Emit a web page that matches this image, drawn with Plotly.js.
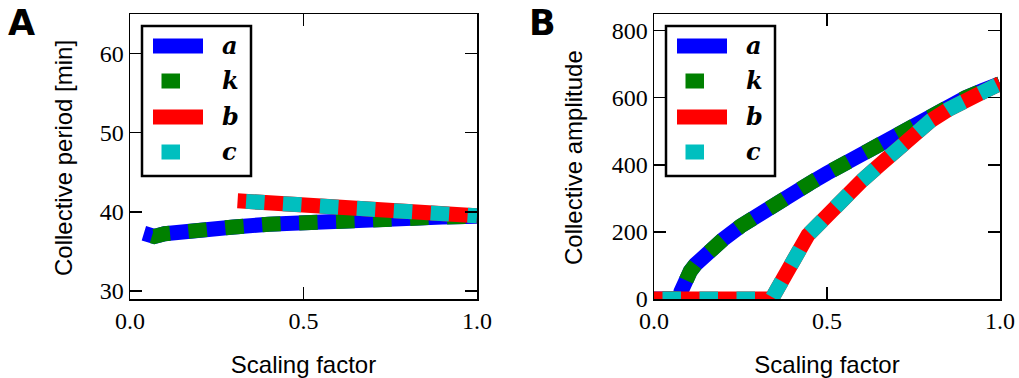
<!DOCTYPE html>
<html>
<head>
<meta charset="utf-8">
<script src="https://cdn.plot.ly/plotly-3.0.1.min.js"></script>
<style>html,body{margin:0;padding:0;background:#fff;}#chart{width:1019px;height:378px;}</style>
</head>
<body>
<div id="chart"></div>
<script>
// Panel A: collective period [min]
const periodA_x = [0.04, 0.07, 0.1, 0.15, 0.2, 0.25, 0.3, 0.4, 0.5, 0.6, 0.7, 0.8, 0.9, 1.0];
const periodA_y = [37.3, 36.9, 37.25, 37.55, 37.75, 37.95, 38.1, 38.45, 38.7, 38.9, 39.05, 39.2, 39.35, 39.45];
const periodB_x = [0.31, 0.4, 0.5, 0.6, 0.7, 0.8, 0.9, 1.0];
const periodB_y = [41.4, 41.2, 40.95, 40.75, 40.5, 40.2, 39.85, 39.5];
// Panel B: collective amplitude
const ampA_x = [0, 0.074, 0.078, 0.085, 0.095, 0.105, 0.12, 0.135, 0.15, 0.17, 0.2, 0.25, 0.3, 0.35, 0.4, 0.45, 0.5, 0.55, 0.6, 0.65, 0.7, 0.75, 0.8, 0.85, 0.9, 0.95, 1.0];
const ampA_y = [0, 0, 22, 45, 66, 83, 103, 120, 135, 153, 178, 217, 252, 284, 315, 345, 375, 404, 433, 462, 492, 521, 548, 575, 600, 622, 642];
const ampB_x = [0, 0.34, 0.445, 0.5, 0.55, 0.6, 0.65, 0.7, 0.75, 0.8, 0.85, 0.9, 0.95, 1.0];
const ampB_y = [0, 0, 191, 252, 304, 352, 398, 442, 493, 532, 565, 595, 617, 642];

const seriesNames = ['a', 'k', 'b', 'c'];
const seriesColors = ['#0000ff', '#008000', '#ff0000', '#00bfbf'];
const xTickVals = [0, 0.5, 1.0];
const xTickText = ['0.0', '0.5', '1.0'];
const yTickValsA = [30, 40, 50, 60];
const yTickValsB = [0, 200, 400, 600, 800];

const LW = 15;
const seriesDash = ['solid', '0px,8.5px,18.5px,10px', 'solid', '0px,8.5px,18.5px,10px'];
const legendDash = ['solid', '0px,8.5px,18.5px,40px', 'solid', '0px,8.5px,18.5px,40px'];

const W = 1019, PT = 14, PB = 299;
const px2x = p => p / W;
const px2y = p => (PB - p) / (PB - PT);

function tr(x, y, i, xa, ya) {
  return {
    x: x, y: y, type: 'scatter', mode: 'lines',
    name: seriesNames[i], showlegend: false,
    xaxis: xa, yaxis: ya,
    line: {color: seriesColors[i], width: LW, dash: seriesDash[i]},
    hoverinfo: 'skip'
  };
}

const data = [
  tr(periodA_x, periodA_y, 0, 'x', 'y'),
  tr(periodA_x, periodA_y, 1, 'x', 'y'),
  tr(periodB_x, periodB_y, 2, 'x', 'y'),
  tr(periodB_x, periodB_y, 3, 'x', 'y'),
  tr(ampA_x, ampA_y, 0, 'x2', 'y2'),
  tr(ampA_x, ampA_y, 1, 'x2', 'y2'),
  tr(ampB_x, ampB_y, 2, 'x2', 'y2'),
  tr(ampB_x, ampB_y, 3, 'x2', 'y2')
];

const serif = 'Liberation Serif, serif';
const sans = 'Liberation Sans, Arial, sans-serif';
const tickFont = {family: serif, size: 24, color: '#000'};
const titleFont = {family: sans, size: 24, color: '#000'};
const axisBase = {
  showline: true, mirror: 'ticks', linecolor: '#000', linewidth: 1.5,
  ticks: 'inside', ticklen: 12, tickwidth: 1.3, tickcolor: '#000',
  showgrid: false, zeroline: false, tickfont: tickFont
};
const xBase = Object.assign({}, axisBase, {
  range: [0, 1], tickvals: xTickVals, ticktext: xTickText,
  title: {text: 'Scaling factor', font: titleFont}
});

// legends (boxes with sample lines and labels)
const shapes = [];
const annotations = [];
const rowsY = [46, 81, 117, 152];
[142, 666].forEach(left => {
  shapes.push({type: 'rect', xref: 'paper', yref: 'paper', layer: 'above',
    x0: px2x(left), x1: px2x(left + 109), y0: px2y(176), y1: px2y(26),
    line: {color: '#000', width: 2.5}, fillcolor: '#fff'});
  seriesNames.forEach((nm, i) => {
    shapes.push({type: 'line', xref: 'paper', yref: 'paper', layer: 'above',
      x0: px2x(left + 11), x1: px2x(left + 61), y0: px2y(rowsY[i]), y1: px2y(rowsY[i]),
      line: {color: seriesColors[i], width: LW, dash: legendDash[i]}});
    annotations.push({text: '<b><i>' + nm + '</i></b>', xref: 'paper', yref: 'paper',
      x: px2x(left + 78), y: px2y(rowsY[i] - 1), xanchor: 'left', yanchor: 'middle',
      showarrow: false, font: {family: 'DejaVu Serif, serif', size: 24, color: '#000'}});
  });
});

// panel letters and y-axis titles
annotations.push(
  {text: '<b>A</b>', xref: 'paper', yref: 'paper', x: px2x(6), y: px2y(1),
   xanchor: 'left', yanchor: 'top', showarrow: false,
   font: {family: 'DejaVu Sans, sans-serif', size: 35, color: '#000'}},
  {text: '<b>B</b>', xref: 'paper', yref: 'paper', x: px2x(527), y: px2y(1),
   xanchor: 'left', yanchor: 'top', showarrow: false,
   font: {family: 'DejaVu Sans, sans-serif', size: 35, color: '#000'}},
  {text: 'Collective period [min]', xref: 'paper', yref: 'paper', x: px2x(63), y: px2y(158),
   xanchor: 'center', yanchor: 'middle', textangle: -90, showarrow: false, font: titleFont},
  {text: 'Collective amplitude', xref: 'paper', yref: 'paper', x: px2x(573), y: px2y(158),
   xanchor: 'center', yanchor: 'middle', textangle: -90, showarrow: false, font: titleFont}
);

const layout = {
  width: 1019, height: 378,
  margin: {l: 0, r: 0, t: PT, b: 378 - PB},
  paper_bgcolor: '#fff', plot_bgcolor: '#fff',
  font: {family: serif, color: '#000'},
  showlegend: false,
  xaxis: Object.assign({}, xBase, {domain: [130 / W, 477 / W], anchor: 'y'}),
  yaxis: Object.assign({}, axisBase, {range: [29, 65], tickvals: yTickValsA, anchor: 'x'}),
  xaxis2: Object.assign({}, xBase, {domain: [654 / W, 1000 / W], anchor: 'y2'}),
  yaxis2: Object.assign({}, axisBase, {range: [0, 850], tickvals: yTickValsB, anchor: 'x2'}),
  shapes: shapes,
  annotations: annotations
};

Plotly.newPlot('chart', data, layout, {displayModeBar: false, staticPlot: true});
</script>
</body>
</html>
